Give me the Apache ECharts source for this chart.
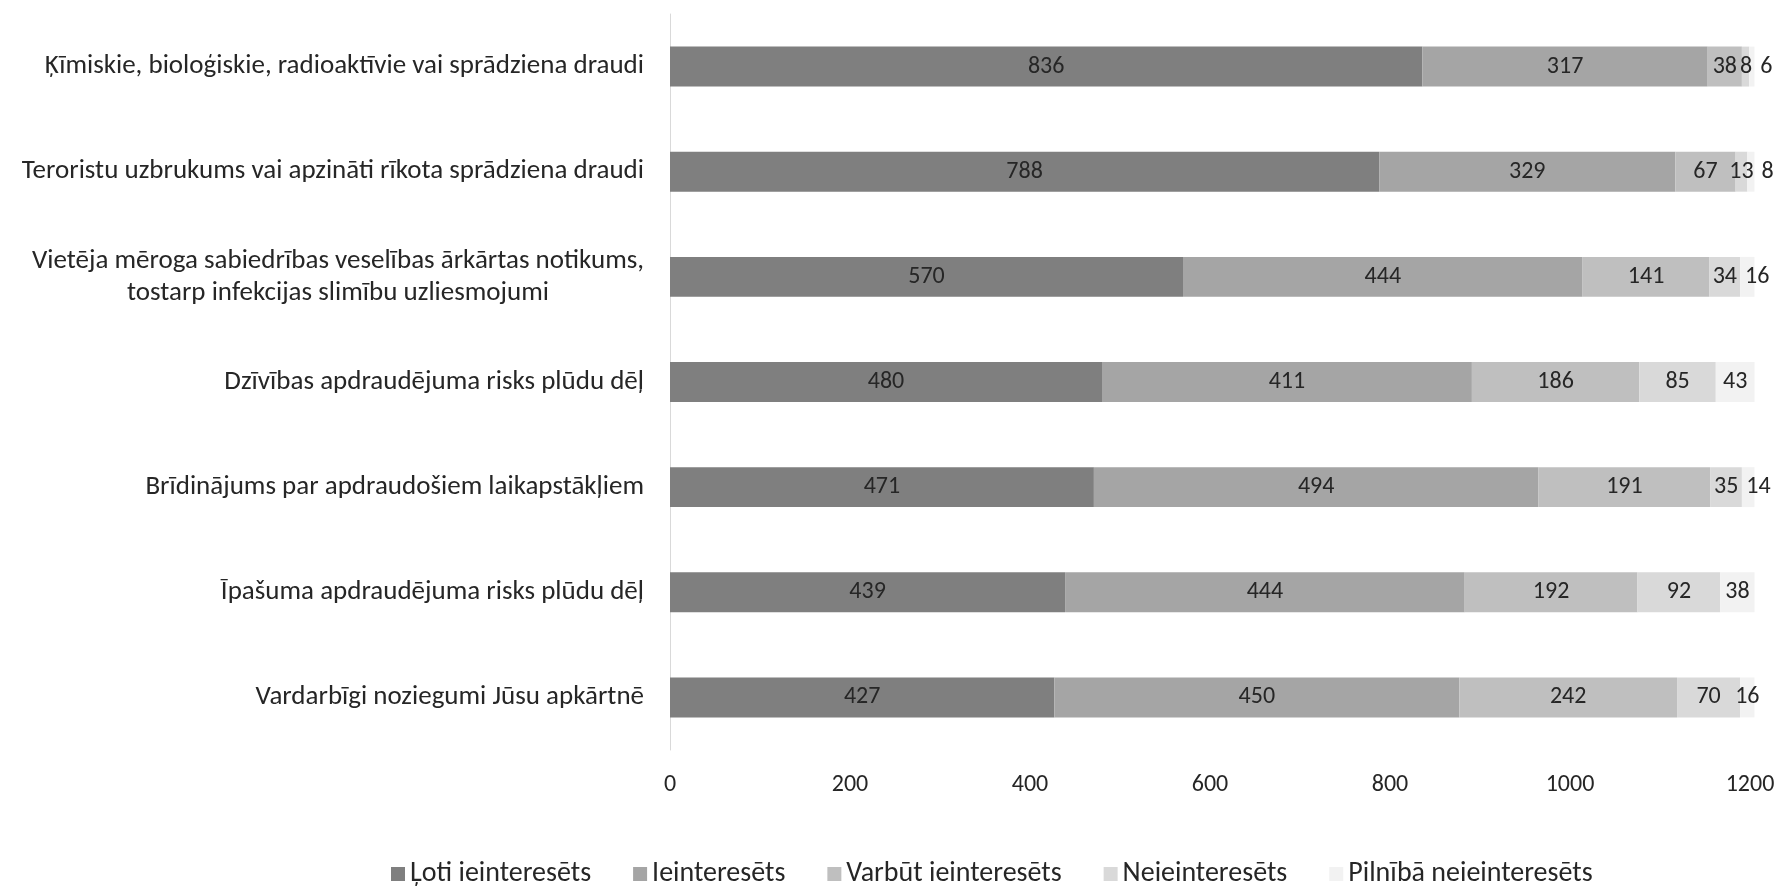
<!DOCTYPE html>
<html>
<head>
<meta charset="utf-8">
<script src="https://cdn.jsdelivr.net/npm/echarts@6/dist/echarts.min.js"></script>
<style>
  html, body { margin: 0; padding: 0; background: #fff; }
  #chart { width: 1782px; height: 886px; }
</style>
</head>
<body>
<div id="chart"></div>
<script>
// Threat categories (top to bottom)
const categories = [
  'Ķīmiskie, bioloģiskie, radioaktīvie vai sprādziena draudi',
  'Teroristu uzbrukums vai apzināti rīkota sprādziena draudi',
  'Vietēja mēroga sabiedrības veselības ārkārtas notikums,\ntostarp infekcijas slimību uzliesmojumi',
  'Dzīvības apdraudējuma risks plūdu dēļ',
  'Brīdinājums par apdraudošiem laikapstākļiem',
  'Īpašuma apdraudējuma risks plūdu dēļ',
  'Vardarbīgi noziegumi Jūsu apkārtnē'
];

// Number of respondents per interest level
const lotiIeinteresets = [836, 788, 570, 480, 471, 439, 427];
const ieinteresets = [317, 329, 444, 411, 494, 444, 450];
const varbutIeinteresets = [38, 67, 141, 186, 191, 192, 242];
const neieinteresets = [8, 13, 34, 85, 35, 92, 70];
const pilnibaNeieinteresets = [6, 8, 16, 43, 14, 38, 16];

const seriesNames = ['Ļoti ieinteresēts', 'Ieinteresēts', 'Varbūt ieinteresēts', 'Neieinteresēts', 'Pilnībā neieinteresēts'];
const xTicks = [0, 200, 400, 600, 800, 1000, 1200];

const seriesData = [lotiIeinteresets, ieinteresets, varbutIeinteresets, neieinteresets, pilnibaNeieinteresets];
const colors = ['#7f7f7f', '#a5a5a5', '#bfbfbf', '#d9d9d9', '#f2f2f2'];

const FONT = 'Carlito, "Open Sans", sans-serif';
const TEXT = '#262626';
const FS_CAT = 27;
const FS_NUM = 24;
const FS_LEG = 28;

// Push the labels of the thin right-hand segments apart so they do not overlap
const minGap = [0, 0, 0, 3, 8];
function labelNudge(params) {
  const k = params.seriesIndex;
  const i = params.dataIndex;
  const ppu = params.rect.width / seriesData[k][i];
  const digitW = params.labelRect.width / String(seriesData[k][i]).length;
  let start = params.rect.x;
  for (let s = 0; s < k; s++) start -= seriesData[s][i] * ppu;
  let acc = 0;
  let prevPos = null, prevW = 0, pos = 0;
  for (let s = 0; s <= k; s++) {
    const v = seriesData[s][i];
    const center = start + (acc + v / 2) * ppu;
    const w = String(v).length * digitW;
    pos = center;
    if (s >= 3 && prevPos !== null) {
      pos = Math.max(center, prevPos + (prevW + w) / 2 + minGap[s]);
    }
    prevPos = pos;
    prevW = w;
    acc += v;
  }
  const ownCenter = params.rect.x + params.rect.width / 2;
  return { dx: pos - ownCenter };
}

const chart = echarts.init(document.getElementById('chart'), null, { renderer: 'canvas' });

chart.setOption({
  animation: false,
  textStyle: { fontFamily: FONT },
  grid: { left: 670, right: 32, top: 14, bottom: 136, containLabel: false },
  legend: {
    data: seriesNames,
    left: 386,
    top: 855,
    icon: 'rect',
    itemWidth: 14,
    itemHeight: 14,
    itemGap: 42,
    textStyle: { fontFamily: FONT, fontSize: FS_LEG, color: TEXT, padding: [0, 0, 0, 0] }
  },
  xAxis: {
    type: 'value',
    min: 0,
    max: 1200,
    interval: 200,
    axisLine: { show: false },
    axisTick: { show: false },
    splitLine: { show: false },
    axisLabel: {
      fontFamily: FONT, fontSize: FS_NUM, color: TEXT, margin: 23,
      formatter: v => (xTicks.includes(v) ? String(v) : '')
    }
  },
  yAxis: {
    type: 'category',
    inverse: true,
    data: categories,
    axisLine: { show: true, lineStyle: { color: '#d9d9d9', width: 1 } },
    axisTick: { show: false },
    axisLabel: {
      margin: 26,
      formatter: v => v.split('\n').map(l => '{c|' + l + '}').join('\n'),
      rich: {
        c: { fontFamily: FONT, fontSize: FS_CAT, color: TEXT, align: 'center', lineHeight: 32 }
      }
    }
  },
  series: seriesData.map((d, k) => ({
    name: seriesNames[k],
    type: 'bar',
    stack: 'total',
    clip: false,
    barCategoryGap: '62%',
    data: d,
    itemStyle: { color: colors[k] },
    label: {
      show: true,
      position: 'inside',
      fontFamily: FONT,
      fontSize: FS_NUM,
      color: TEXT
    },
    labelLayout: k >= 3 ? labelNudge : undefined
  }))
});
</script>
</body>
</html>
